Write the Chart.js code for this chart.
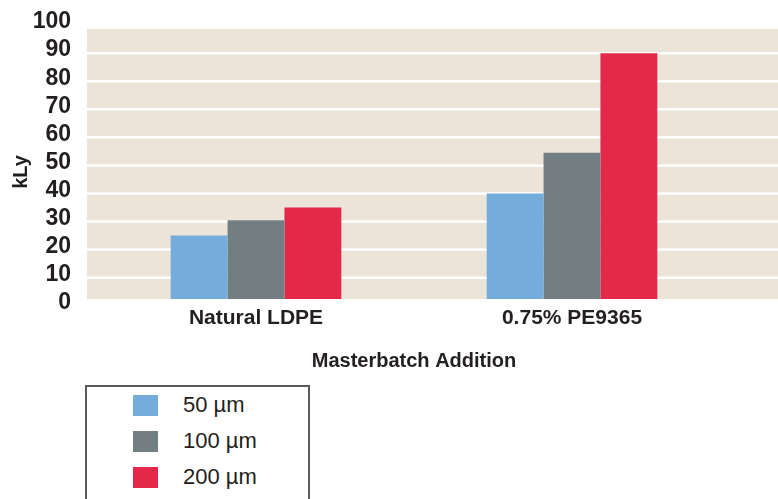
<!DOCTYPE html>
<html>
<head>
<meta charset="utf-8">
<script src="https://cdn.jsdelivr.net/npm/chart.js@4.4.0/dist/chart.umd.min.js"></script>
<style>
  html, body { margin: 0; padding: 0; background: #fff; }
  #wrap { position: relative; width: 778px; height: 499px; overflow: hidden; }
  #plot { position: absolute; left: 0; top: 0; width: 778px; height: 385px; }
  #legend {
    position: absolute; left: 85px; top: 385px; width: 225px; height: 140px;
    box-sizing: border-box; border: 2px solid #5a5a5c;
    font: 22px 'Liberation Sans', Arial, sans-serif; color: #231f20;
  }
  #legend .item { display: flex; align-items: center; height: 36px; padding-left: 46px; }
  #legend .swatch { width: 25px; height: 21px; margin-right: 25px; }
</style>
</head>
<body>
<div id="wrap">
  <div id="plot"><canvas id="chart"></canvas></div>
  <div id="legend"></div>
</div>
<script>
// ─── data ────────────────────────────────────────────────────────────────────
const categories   = ['Natural LDPE', '0.75% PE9365'];
const seriesLabels = ['50 µm', '100 µm', '200 µm'];
const values50     = [25, 40];
const values100    = [30.5, 54.5];
const values200    = [35, 90];
const yTickValues  = [0, 10, 20, 30, 40, 50, 60, 70, 80, 90, 100];

const COL = {
  blue:  '#74addc',
  gray:  '#737e83',
  red:   '#e32849',
  panel: '#ece4d9',
  grid:  '#ffffff',
  text:  '#231f20',
};
const BOLD = "'Liberation Sans', Arial, sans-serif";

// beige panel + white rules, drawn under the bars and a bit wider than the bar area
const panelPlugin = {
  id: 'panel',
  beforeDatasetsDraw(chart) {
    const { ctx, chartArea, scales } = chart;
    const left = chartArea.left - 11;
    const right = chart.width;
    ctx.save();
    ctx.fillStyle = COL.panel;
    ctx.fillRect(left, chartArea.top, right - left, chartArea.bottom - chartArea.top);
    ctx.beginPath();
    ctx.rect(left, chartArea.top, right - left, chartArea.bottom - chartArea.top);
    ctx.clip();
    ctx.strokeStyle = COL.grid;
    ctx.lineWidth = 2.5;
    yTickValues.forEach(v => {
      const y = scales.y.getPixelForValue(v);
      ctx.beginPath();
      ctx.moveTo(left, y);
      ctx.lineTo(right, y);
      ctx.stroke();
    });
    ctx.restore();
  },
  afterDraw(chart) {
    // rotated y title
    const { ctx } = chart;
    ctx.save();
    ctx.translate(21, 172);
    ctx.rotate(-Math.PI / 2);
    ctx.fillStyle = COL.text;
    ctx.font = `bold 20px ${BOLD}`;
    ctx.textAlign = 'center';
    ctx.textBaseline = 'middle';
    ctx.fillText('kLy', 0, 0);
    ctx.restore();
  },
};

const chart = new Chart(document.getElementById('chart'), {
  type: 'bar',
  data: {
    labels: categories,
    datasets: [
      { label: seriesLabels[0], data: values50,  backgroundColor: COL.blue },
      { label: seriesLabels[1], data: values100, backgroundColor: COL.gray },
      { label: seriesLabels[2], data: values200, backgroundColor: COL.red },
    ],
  },
  options: {
    responsive: true,
    maintainAspectRatio: false,
    animation: false,
    layout: { padding: { top: 29, right: 48, left: 0, bottom: 0 } },
    datasets: { bar: { categoryPercentage: 0.54, barPercentage: 1.0, borderWidth: 0 } },
    plugins: { legend: { display: false }, tooltip: { enabled: false } },
    scales: {
      x: {
        grid: { display: false, drawTicks: false },
        border: { display: false },
        ticks: { color: COL.text, padding: 7, font: { family: BOLD, size: 21, weight: 'bold' } },
        title: {
          display: true, text: 'Masterbatch Addition', color: COL.text,
          padding: { top: 0, bottom: 12 },
          font: { family: BOLD, size: 20, weight: 'bold' },
        },
        afterFit(scale) { scale.height = 86; scale.paddingLeft = 0; scale.paddingRight = 0; },
      },
      y: {
        min: 2.4,
        max: 98.6,
        grid: { display: false, drawTicks: false },
        border: { display: false },
        ticks: {
          color: COL.text, padding: 27, labelOffset: -3, autoSkip: false,
          font: { family: BOLD, size: 23, weight: 'bold' },
        },
        afterBuildTicks(scale) { scale.ticks = yTickValues.map(v => ({ value: v })); },
        afterFit(scale) { scale.width = 98; scale.paddingTop = 0; scale.paddingBottom = 0; },
      },
    },
  },
  plugins: [panelPlugin],
});

// boxed legend under the plot
const legendEl = document.getElementById('legend');
Chart.defaults.plugins.legend.labels.generateLabels(chart).forEach(item => {
  const row = document.createElement('div');
  row.className = 'item';
  const sw = document.createElement('span');
  sw.className = 'swatch';
  sw.style.background = item.fillStyle;
  const txt = document.createElement('span');
  txt.textContent = item.text;
  row.appendChild(sw);
  row.appendChild(txt);
  legendEl.appendChild(row);
});
</script>
</body>
</html>
